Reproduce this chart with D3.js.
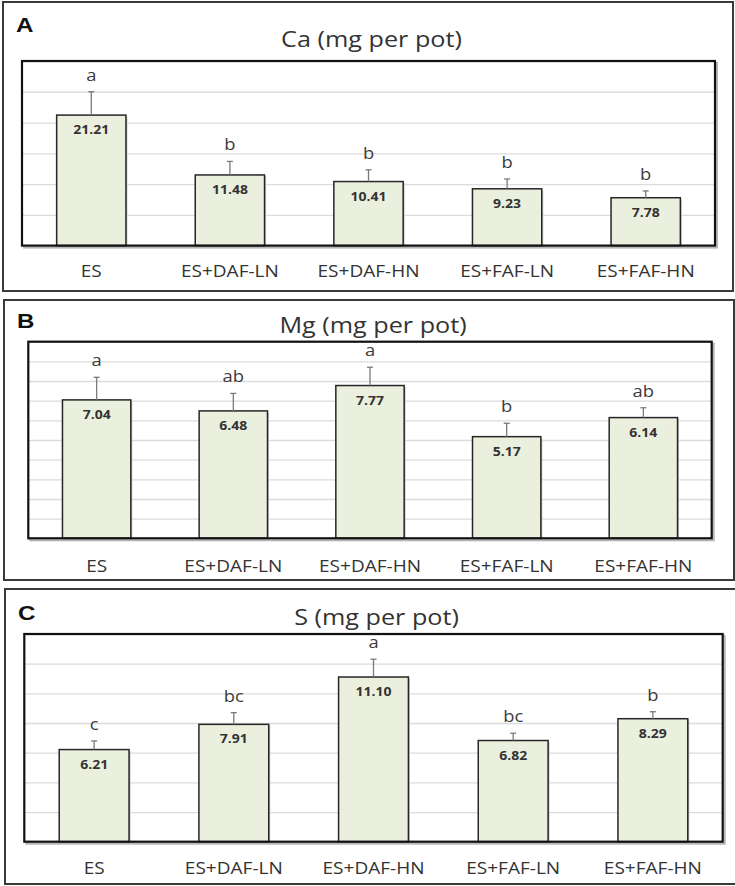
<!DOCTYPE html>
<html>
<head>
<meta charset="utf-8">
<script src="https://cdn.jsdelivr.net/npm/d3@7"></script>
<style>
  html, body { margin: 0; padding: 0; background: #fff; }
  svg { display: block; }
</style>
</head>
<body>
<svg id="chart" width="735" height="886"></svg>
<script>
// Treatments shared by all three panels
const categories = ["ES", "ES+DAF-LN", "ES+DAF-HN", "ES+FAF-LN", "ES+FAF-HN"];

// Panel A: calcium uptake
const caValues  = [21.21, 11.48, 10.41, 9.23, 7.78];
const caErrors  = [3.8, 2.2, 1.9, 1.6, 1.1];
const caLetters = ["a", "b", "b", "b", "b"];
const caTicks   = [0, 5, 10, 15, 20, 25, 30];

// Panel B: magnesium uptake
const mgValues  = [7.04, 6.48, 7.77, 5.17, 6.14];
const mgErrors  = [1.15, 0.89, 0.93, 0.68, 0.5];
const mgLetters = ["a", "ab", "a", "b", "ab"];
const mgTicks   = [0, 1, 2, 3, 4, 5, 6, 7, 8, 9, 10];

// Panel C: sulphur uptake
const sValues  = [6.21, 7.91, 11.10, 6.82, 8.29];
const sErrors  = [0.58, 0.79, 1.2, 0.49, 0.47];
const sLetters = ["c", "bc", "a", "bc", "b"];
const sTicks   = [0, 2, 4, 6, 8, 10, 12, 14];

const panelTags   = ["A", "B", "C"];
const panelTitles = ["Ca (mg per pot)", "Mg (mg per pot)", "S (mg per pot)"];

const FONT = "'Open Sans', 'Noto Sans', sans-serif";

const panels = [
  { tag: panelTags[0], title: panelTitles[0], values: caValues, errors: caErrors, letters: caLetters, ticks: caTicks,
    frame: { x: 3, y: 2, w: 730, h: 289 },
    plot:  { x: 22, y: 61, w: 693, h: 184.6 },
    tagPos: [16, 32], titleY: 47, labelY: 276.5 },
  { tag: panelTags[1], title: panelTitles[1], values: mgValues, errors: mgErrors, letters: mgLetters, ticks: mgTicks,
    frame: { x: 4, y: 300, w: 730, h: 280 },
    plot:  { x: 28.3, y: 341.7, w: 683.4, h: 196.6 },
    tagPos: [17, 328], titleY: 333, labelY: 572 },
  { tag: panelTags[2], title: panelTitles[2], values: sValues, errors: sErrors, letters: sLetters, ticks: sTicks,
    frame: { x: 5, y: 589, w: 745, h: 295 },
    plot:  { x: 24.3, y: 634, w: 698.4, h: 207.7 },
    tagPos: [18, 620], titleY: 625, labelY: 873.5 }
];

const svg = d3.select("#chart");

// text placed at (x, y) and widened horizontally by sx
function wideText(sel, x, y, sx) {
  return sel.attr("x", 0).attr("y", 0)
    .attr("transform", `translate(${x},${y}) scale(${sx},1)`);
}

panels.forEach(p => {
  const g = svg.append("g");

  // outer panel box
  g.append("rect")
    .attr("x", p.frame.x).attr("y", p.frame.y)
    .attr("width", p.frame.w).attr("height", p.frame.h)
    .attr("fill", "none").attr("stroke", "#3a3a3a").attr("stroke-width", 2);

  // panel tag
  wideText(g.append("text"), p.tagPos[0], p.tagPos[1], 1.15)
    .attr("font-family", "'Liberation Sans', Arial, sans-serif")
    .attr("font-weight", "bold").attr("font-size", 21)
    .attr("fill", "#111")
    .text(p.tag);

  // title
  wideText(g.append("text"), p.plot.x + p.plot.w / 2 + 3, p.titleY, 1.2)
    .attr("text-anchor", "middle")
    .attr("font-family", FONT).attr("font-size", 21)
    .attr("fill", "#333")
    .text(p.title);

  const x = d3.scaleBand()
    .domain(categories)
    .range([p.plot.x, p.plot.x + p.plot.w])
    .paddingInner(0.5).paddingOuter(0.25);

  const y = d3.scaleLinear()
    .domain([p.ticks[0], p.ticks[p.ticks.length - 1]])
    .range([p.plot.y + p.plot.h, p.plot.y]);

  const plot = g.append("g");

  // frame shadow
  plot.append("rect")
    .attr("x", p.plot.x + 2).attr("y", p.plot.y + 2)
    .attr("width", p.plot.w).attr("height", p.plot.h)
    .attr("fill", "none").attr("stroke", "#b5b5b5").attr("stroke-width", 2);

  plot.append("rect")
    .attr("x", p.plot.x).attr("y", p.plot.y)
    .attr("width", p.plot.w).attr("height", p.plot.h)
    .attr("fill", "#fff");

  // horizontal gridlines via the y axis
  const grid = plot.append("g")
    .attr("transform", `translate(${p.plot.x},0)`)
    .call(d3.axisLeft(y).tickValues(p.ticks).tickSize(-p.plot.w).tickFormat(""));
  grid.select(".domain").remove();
  grid.selectAll(".tick line").attr("stroke", "#dcdcdc").attr("stroke-width", 1.3);

  const rows = categories.map((c, i) => ({ c, v: p.values[i], e: p.errors[i], l: p.letters[i] }));

  // bars
  plot.selectAll("rect.bar-shadow").data(rows).join("rect")
    .attr("class", "bar-shadow")
    .attr("x", d => x(d.c) + 1.5).attr("y", d => y(d.v) + 1.5)
    .attr("width", x.bandwidth()).attr("height", d => y(0) - y(d.v))
    .attr("fill", "#c8c8c8");

  plot.selectAll("rect.bar").data(rows).join("rect")
    .attr("class", "bar")
    .attr("x", d => x(d.c)).attr("y", d => y(d.v))
    .attr("width", x.bandwidth()).attr("height", d => y(0) - y(d.v))
    .attr("fill", "#ebf0de").attr("stroke", "#262626").attr("stroke-width", 1.5);

  // error bars (upper only)
  const cx = d => x(d.c) + x.bandwidth() / 2;
  plot.selectAll("line.err").data(rows).join("line")
    .attr("class", "err")
    .attr("x1", cx).attr("x2", cx)
    .attr("y1", d => y(d.v)).attr("y2", d => y(d.v + d.e))
    .attr("stroke", "#7a7a7a").attr("stroke-width", 1.3);
  plot.selectAll("line.cap").data(rows).join("line")
    .attr("class", "cap")
    .attr("x1", d => cx(d) - 3).attr("x2", d => cx(d) + 3)
    .attr("y1", d => y(d.v + d.e)).attr("y2", d => y(d.v + d.e))
    .attr("stroke", "#7a7a7a").attr("stroke-width", 1.3);

  // value labels
  plot.selectAll("text.val").data(rows).join("text")
    .attr("class", "val")
    .each(function (d) { wideText(d3.select(this), cx(d), y(d.v) + 19, 1.12); })
    .attr("text-anchor", "middle")
    .attr("font-family", FONT).attr("font-weight", "bold").attr("font-size", 12.5)
    .attr("fill", "#333")
    .text(d => d.v.toFixed(2));

  // significance letters
  plot.selectAll("text.sig").data(rows).join("text")
    .attr("class", "sig")
    .each(function (d) { wideText(d3.select(this), cx(d), y(d.v + d.e) - 11, 1.15); })
    .attr("text-anchor", "middle")
    .attr("font-family", FONT).attr("font-size", 16)
    .attr("fill", "#3a3a3a")
    .text(d => d.l);

  // plot frame
  plot.append("rect")
    .attr("x", p.plot.x).attr("y", p.plot.y)
    .attr("width", p.plot.w).attr("height", p.plot.h)
    .attr("fill", "none").attr("stroke", "#111").attr("stroke-width", 2.2);

  // category labels via the x axis
  const xa = g.append("g")
    .attr("transform", `translate(0,${p.labelY})`)
    .call(d3.axisBottom(x).tickSize(0).tickPadding(0));
  xa.select(".domain").remove();
  xa.selectAll("text")
    .attr("dy", 0).attr("y", 0)
    .attr("transform", "scale(1.12,1)")
    .attr("font-family", FONT).attr("font-size", 17)
    .attr("fill", "#333");
});
</script>
</body>
</html>
